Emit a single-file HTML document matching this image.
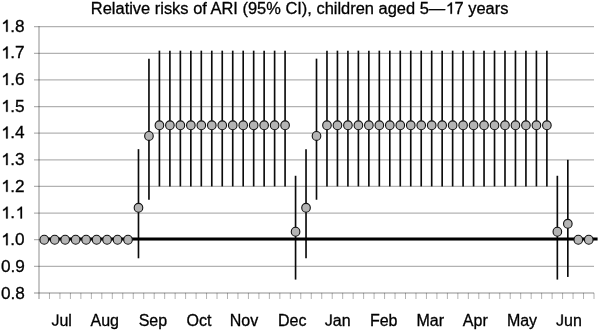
<!DOCTYPE html>
<html><head><meta charset="utf-8"><style>
html,body{margin:0;padding:0;background:#fff;width:600px;height:331px;overflow:hidden}
svg{display:block;will-change:transform;font-family:"Liberation Sans",sans-serif;fill:#000}
text,path.g{stroke:#000;stroke-width:0.3px}
.o1{fill:transparent;stroke:none}
</style></head><body>
<svg width="600" height="331" viewBox="0 0 600 331">
<line x1="34" y1="26.70" x2="594.00" y2="26.70" stroke="rgba(0,0,0,0.3)" stroke-width="1.3"/>
<line x1="34" y1="53.32" x2="594.00" y2="53.32" stroke="rgba(0,0,0,0.3)" stroke-width="1.3"/>
<line x1="34" y1="79.94" x2="594.00" y2="79.94" stroke="rgba(0,0,0,0.3)" stroke-width="1.3"/>
<line x1="34" y1="106.56" x2="594.00" y2="106.56" stroke="rgba(0,0,0,0.3)" stroke-width="1.3"/>
<line x1="34" y1="133.18" x2="594.00" y2="133.18" stroke="rgba(0,0,0,0.3)" stroke-width="1.3"/>
<line x1="34" y1="159.80" x2="594.00" y2="159.80" stroke="rgba(0,0,0,0.3)" stroke-width="1.3"/>
<line x1="34" y1="186.42" x2="594.00" y2="186.42" stroke="rgba(0,0,0,0.3)" stroke-width="1.3"/>
<line x1="34" y1="213.04" x2="594.00" y2="213.04" stroke="rgba(0,0,0,0.3)" stroke-width="1.3"/>
<line x1="34" y1="239.66" x2="594.00" y2="239.66" stroke="rgba(0,0,0,0.3)" stroke-width="1.3"/>
<line x1="34" y1="266.28" x2="594.00" y2="266.28" stroke="rgba(0,0,0,0.3)" stroke-width="1.3"/>
<line x1="34" y1="292.90" x2="594.00" y2="292.90" stroke="rgba(0,0,0,0.22)" stroke-width="2"/>
<line x1="49.47" y1="292.90" x2="49.47" y2="299" stroke="rgba(0,0,0,0.3)" stroke-width="1"/>
<line x1="59.94" y1="292.90" x2="59.94" y2="299" stroke="rgba(0,0,0,0.3)" stroke-width="1"/>
<line x1="70.42" y1="292.90" x2="70.42" y2="299" stroke="rgba(0,0,0,0.3)" stroke-width="1"/>
<line x1="80.89" y1="292.90" x2="80.89" y2="299" stroke="rgba(0,0,0,0.3)" stroke-width="1"/>
<line x1="91.36" y1="292.90" x2="91.36" y2="299" stroke="rgba(0,0,0,0.3)" stroke-width="1"/>
<line x1="101.83" y1="292.90" x2="101.83" y2="299" stroke="rgba(0,0,0,0.3)" stroke-width="1"/>
<line x1="112.30" y1="292.90" x2="112.30" y2="299" stroke="rgba(0,0,0,0.3)" stroke-width="1"/>
<line x1="122.77" y1="292.90" x2="122.77" y2="299" stroke="rgba(0,0,0,0.3)" stroke-width="1"/>
<line x1="133.25" y1="292.90" x2="133.25" y2="299" stroke="rgba(0,0,0,0.3)" stroke-width="1"/>
<line x1="143.72" y1="292.90" x2="143.72" y2="299" stroke="rgba(0,0,0,0.3)" stroke-width="1"/>
<line x1="154.19" y1="292.90" x2="154.19" y2="299" stroke="rgba(0,0,0,0.3)" stroke-width="1"/>
<line x1="164.66" y1="292.90" x2="164.66" y2="299" stroke="rgba(0,0,0,0.3)" stroke-width="1"/>
<line x1="175.13" y1="292.90" x2="175.13" y2="299" stroke="rgba(0,0,0,0.3)" stroke-width="1"/>
<line x1="185.60" y1="292.90" x2="185.60" y2="299" stroke="rgba(0,0,0,0.3)" stroke-width="1"/>
<line x1="196.08" y1="292.90" x2="196.08" y2="299" stroke="rgba(0,0,0,0.3)" stroke-width="1"/>
<line x1="206.55" y1="292.90" x2="206.55" y2="299" stroke="rgba(0,0,0,0.3)" stroke-width="1"/>
<line x1="217.02" y1="292.90" x2="217.02" y2="299" stroke="rgba(0,0,0,0.3)" stroke-width="1"/>
<line x1="227.49" y1="292.90" x2="227.49" y2="299" stroke="rgba(0,0,0,0.3)" stroke-width="1"/>
<line x1="237.96" y1="292.90" x2="237.96" y2="299" stroke="rgba(0,0,0,0.3)" stroke-width="1"/>
<line x1="248.43" y1="292.90" x2="248.43" y2="299" stroke="rgba(0,0,0,0.3)" stroke-width="1"/>
<line x1="258.91" y1="292.90" x2="258.91" y2="299" stroke="rgba(0,0,0,0.3)" stroke-width="1"/>
<line x1="269.38" y1="292.90" x2="269.38" y2="299" stroke="rgba(0,0,0,0.3)" stroke-width="1"/>
<line x1="279.85" y1="292.90" x2="279.85" y2="299" stroke="rgba(0,0,0,0.3)" stroke-width="1"/>
<line x1="290.32" y1="292.90" x2="290.32" y2="299" stroke="rgba(0,0,0,0.3)" stroke-width="1"/>
<line x1="300.79" y1="292.90" x2="300.79" y2="299" stroke="rgba(0,0,0,0.3)" stroke-width="1"/>
<line x1="311.26" y1="292.90" x2="311.26" y2="299" stroke="rgba(0,0,0,0.3)" stroke-width="1"/>
<line x1="321.74" y1="292.90" x2="321.74" y2="299" stroke="rgba(0,0,0,0.3)" stroke-width="1"/>
<line x1="332.21" y1="292.90" x2="332.21" y2="299" stroke="rgba(0,0,0,0.3)" stroke-width="1"/>
<line x1="342.68" y1="292.90" x2="342.68" y2="299" stroke="rgba(0,0,0,0.3)" stroke-width="1"/>
<line x1="353.15" y1="292.90" x2="353.15" y2="299" stroke="rgba(0,0,0,0.3)" stroke-width="1"/>
<line x1="363.62" y1="292.90" x2="363.62" y2="299" stroke="rgba(0,0,0,0.3)" stroke-width="1"/>
<line x1="374.09" y1="292.90" x2="374.09" y2="299" stroke="rgba(0,0,0,0.3)" stroke-width="1"/>
<line x1="384.57" y1="292.90" x2="384.57" y2="299" stroke="rgba(0,0,0,0.3)" stroke-width="1"/>
<line x1="395.04" y1="292.90" x2="395.04" y2="299" stroke="rgba(0,0,0,0.3)" stroke-width="1"/>
<line x1="405.51" y1="292.90" x2="405.51" y2="299" stroke="rgba(0,0,0,0.3)" stroke-width="1"/>
<line x1="415.98" y1="292.90" x2="415.98" y2="299" stroke="rgba(0,0,0,0.3)" stroke-width="1"/>
<line x1="426.45" y1="292.90" x2="426.45" y2="299" stroke="rgba(0,0,0,0.3)" stroke-width="1"/>
<line x1="436.92" y1="292.90" x2="436.92" y2="299" stroke="rgba(0,0,0,0.3)" stroke-width="1"/>
<line x1="447.40" y1="292.90" x2="447.40" y2="299" stroke="rgba(0,0,0,0.3)" stroke-width="1"/>
<line x1="457.87" y1="292.90" x2="457.87" y2="299" stroke="rgba(0,0,0,0.3)" stroke-width="1"/>
<line x1="468.34" y1="292.90" x2="468.34" y2="299" stroke="rgba(0,0,0,0.3)" stroke-width="1"/>
<line x1="478.81" y1="292.90" x2="478.81" y2="299" stroke="rgba(0,0,0,0.3)" stroke-width="1"/>
<line x1="489.28" y1="292.90" x2="489.28" y2="299" stroke="rgba(0,0,0,0.3)" stroke-width="1"/>
<line x1="499.75" y1="292.90" x2="499.75" y2="299" stroke="rgba(0,0,0,0.3)" stroke-width="1"/>
<line x1="510.23" y1="292.90" x2="510.23" y2="299" stroke="rgba(0,0,0,0.3)" stroke-width="1"/>
<line x1="520.70" y1="292.90" x2="520.70" y2="299" stroke="rgba(0,0,0,0.3)" stroke-width="1"/>
<line x1="531.17" y1="292.90" x2="531.17" y2="299" stroke="rgba(0,0,0,0.3)" stroke-width="1"/>
<line x1="541.64" y1="292.90" x2="541.64" y2="299" stroke="rgba(0,0,0,0.3)" stroke-width="1"/>
<line x1="552.11" y1="292.90" x2="552.11" y2="299" stroke="rgba(0,0,0,0.3)" stroke-width="1"/>
<line x1="562.58" y1="292.90" x2="562.58" y2="299" stroke="rgba(0,0,0,0.3)" stroke-width="1"/>
<line x1="573.06" y1="292.90" x2="573.06" y2="299" stroke="rgba(0,0,0,0.3)" stroke-width="1"/>
<line x1="583.53" y1="292.90" x2="583.53" y2="299" stroke="rgba(0,0,0,0.3)" stroke-width="1"/>
<line x1="594.00" y1="292.90" x2="594.00" y2="299" stroke="rgba(0,0,0,0.3)" stroke-width="1"/>
<line x1="39.0" y1="26.20" x2="39.0" y2="299" stroke="rgba(0,0,0,0.22)" stroke-width="2"/>
<line x1="138.48" y1="149.15" x2="138.48" y2="258.29" stroke="#0a0a0a" stroke-width="1.65"/>
<line x1="148.95" y1="58.64" x2="148.95" y2="199.73" stroke="#0a0a0a" stroke-width="1.65"/>
<line x1="159.42" y1="50.66" x2="159.42" y2="186.42" stroke="#0a0a0a" stroke-width="1.65"/>
<line x1="169.90" y1="50.66" x2="169.90" y2="186.42" stroke="#0a0a0a" stroke-width="1.65"/>
<line x1="180.37" y1="50.66" x2="180.37" y2="186.42" stroke="#0a0a0a" stroke-width="1.65"/>
<line x1="190.84" y1="50.66" x2="190.84" y2="186.42" stroke="#0a0a0a" stroke-width="1.65"/>
<line x1="201.31" y1="50.66" x2="201.31" y2="186.42" stroke="#0a0a0a" stroke-width="1.65"/>
<line x1="211.78" y1="50.66" x2="211.78" y2="186.42" stroke="#0a0a0a" stroke-width="1.65"/>
<line x1="222.25" y1="50.66" x2="222.25" y2="186.42" stroke="#0a0a0a" stroke-width="1.65"/>
<line x1="232.73" y1="50.66" x2="232.73" y2="186.42" stroke="#0a0a0a" stroke-width="1.65"/>
<line x1="243.20" y1="50.66" x2="243.20" y2="186.42" stroke="#0a0a0a" stroke-width="1.65"/>
<line x1="253.67" y1="50.66" x2="253.67" y2="186.42" stroke="#0a0a0a" stroke-width="1.65"/>
<line x1="264.14" y1="50.66" x2="264.14" y2="186.42" stroke="#0a0a0a" stroke-width="1.65"/>
<line x1="274.61" y1="50.66" x2="274.61" y2="186.42" stroke="#0a0a0a" stroke-width="1.65"/>
<line x1="285.08" y1="50.66" x2="285.08" y2="186.42" stroke="#0a0a0a" stroke-width="1.65"/>
<line x1="295.56" y1="175.77" x2="295.56" y2="279.59" stroke="#0a0a0a" stroke-width="1.65"/>
<line x1="306.03" y1="149.15" x2="306.03" y2="258.29" stroke="#0a0a0a" stroke-width="1.65"/>
<line x1="316.50" y1="58.64" x2="316.50" y2="199.73" stroke="#0a0a0a" stroke-width="1.65"/>
<line x1="326.97" y1="50.66" x2="326.97" y2="186.42" stroke="#0a0a0a" stroke-width="1.65"/>
<line x1="337.44" y1="50.66" x2="337.44" y2="186.42" stroke="#0a0a0a" stroke-width="1.65"/>
<line x1="347.92" y1="50.66" x2="347.92" y2="186.42" stroke="#0a0a0a" stroke-width="1.65"/>
<line x1="358.39" y1="50.66" x2="358.39" y2="186.42" stroke="#0a0a0a" stroke-width="1.65"/>
<line x1="368.86" y1="50.66" x2="368.86" y2="186.42" stroke="#0a0a0a" stroke-width="1.65"/>
<line x1="379.33" y1="50.66" x2="379.33" y2="186.42" stroke="#0a0a0a" stroke-width="1.65"/>
<line x1="389.80" y1="50.66" x2="389.80" y2="186.42" stroke="#0a0a0a" stroke-width="1.65"/>
<line x1="400.27" y1="50.66" x2="400.27" y2="186.42" stroke="#0a0a0a" stroke-width="1.65"/>
<line x1="410.75" y1="50.66" x2="410.75" y2="186.42" stroke="#0a0a0a" stroke-width="1.65"/>
<line x1="421.22" y1="50.66" x2="421.22" y2="186.42" stroke="#0a0a0a" stroke-width="1.65"/>
<line x1="431.69" y1="50.66" x2="431.69" y2="186.42" stroke="#0a0a0a" stroke-width="1.65"/>
<line x1="442.16" y1="50.66" x2="442.16" y2="186.42" stroke="#0a0a0a" stroke-width="1.65"/>
<line x1="452.63" y1="50.66" x2="452.63" y2="186.42" stroke="#0a0a0a" stroke-width="1.65"/>
<line x1="463.10" y1="50.66" x2="463.10" y2="186.42" stroke="#0a0a0a" stroke-width="1.65"/>
<line x1="473.58" y1="50.66" x2="473.58" y2="186.42" stroke="#0a0a0a" stroke-width="1.65"/>
<line x1="484.05" y1="50.66" x2="484.05" y2="186.42" stroke="#0a0a0a" stroke-width="1.65"/>
<line x1="494.52" y1="50.66" x2="494.52" y2="186.42" stroke="#0a0a0a" stroke-width="1.65"/>
<line x1="504.99" y1="50.66" x2="504.99" y2="186.42" stroke="#0a0a0a" stroke-width="1.65"/>
<line x1="515.46" y1="50.66" x2="515.46" y2="186.42" stroke="#0a0a0a" stroke-width="1.65"/>
<line x1="525.93" y1="50.66" x2="525.93" y2="186.42" stroke="#0a0a0a" stroke-width="1.65"/>
<line x1="536.41" y1="50.66" x2="536.41" y2="186.42" stroke="#0a0a0a" stroke-width="1.65"/>
<line x1="546.88" y1="50.66" x2="546.88" y2="186.42" stroke="#0a0a0a" stroke-width="1.65"/>
<line x1="557.35" y1="175.77" x2="557.35" y2="279.59" stroke="#0a0a0a" stroke-width="1.65"/>
<line x1="567.82" y1="159.80" x2="567.82" y2="276.93" stroke="#0a0a0a" stroke-width="1.65"/>
<line x1="44.24" y1="238.9" x2="597.6" y2="238.9" stroke="#000" stroke-width="3"/>
<ellipse cx="44.24" cy="239.76" rx="4.3" ry="4.45" fill="#b4b4b4" stroke="#111" stroke-width="1.1"/>
<ellipse cx="54.71" cy="239.76" rx="4.3" ry="4.45" fill="#b4b4b4" stroke="#111" stroke-width="1.1"/>
<ellipse cx="65.18" cy="239.76" rx="4.3" ry="4.45" fill="#b4b4b4" stroke="#111" stroke-width="1.1"/>
<ellipse cx="75.65" cy="239.76" rx="4.3" ry="4.45" fill="#b4b4b4" stroke="#111" stroke-width="1.1"/>
<ellipse cx="86.12" cy="239.76" rx="4.3" ry="4.45" fill="#b4b4b4" stroke="#111" stroke-width="1.1"/>
<ellipse cx="96.59" cy="239.76" rx="4.3" ry="4.45" fill="#b4b4b4" stroke="#111" stroke-width="1.1"/>
<ellipse cx="107.07" cy="239.76" rx="4.3" ry="4.45" fill="#b4b4b4" stroke="#111" stroke-width="1.1"/>
<ellipse cx="117.54" cy="239.76" rx="4.3" ry="4.45" fill="#b4b4b4" stroke="#111" stroke-width="1.1"/>
<ellipse cx="128.01" cy="239.76" rx="4.3" ry="4.45" fill="#b4b4b4" stroke="#111" stroke-width="1.1"/>
<ellipse cx="138.48" cy="207.82" rx="4.3" ry="4.45" fill="#b4b4b4" stroke="#111" stroke-width="1.1"/>
<ellipse cx="148.95" cy="135.94" rx="4.3" ry="4.45" fill="#b4b4b4" stroke="#111" stroke-width="1.1"/>
<ellipse cx="159.42" cy="125.29" rx="4.3" ry="4.45" fill="#b4b4b4" stroke="#111" stroke-width="1.1"/>
<ellipse cx="169.90" cy="125.29" rx="4.3" ry="4.45" fill="#b4b4b4" stroke="#111" stroke-width="1.1"/>
<ellipse cx="180.37" cy="125.29" rx="4.3" ry="4.45" fill="#b4b4b4" stroke="#111" stroke-width="1.1"/>
<ellipse cx="190.84" cy="125.29" rx="4.3" ry="4.45" fill="#b4b4b4" stroke="#111" stroke-width="1.1"/>
<ellipse cx="201.31" cy="125.29" rx="4.3" ry="4.45" fill="#b4b4b4" stroke="#111" stroke-width="1.1"/>
<ellipse cx="211.78" cy="125.29" rx="4.3" ry="4.45" fill="#b4b4b4" stroke="#111" stroke-width="1.1"/>
<ellipse cx="222.25" cy="125.29" rx="4.3" ry="4.45" fill="#b4b4b4" stroke="#111" stroke-width="1.1"/>
<ellipse cx="232.73" cy="125.29" rx="4.3" ry="4.45" fill="#b4b4b4" stroke="#111" stroke-width="1.1"/>
<ellipse cx="243.20" cy="125.29" rx="4.3" ry="4.45" fill="#b4b4b4" stroke="#111" stroke-width="1.1"/>
<ellipse cx="253.67" cy="125.29" rx="4.3" ry="4.45" fill="#b4b4b4" stroke="#111" stroke-width="1.1"/>
<ellipse cx="264.14" cy="125.29" rx="4.3" ry="4.45" fill="#b4b4b4" stroke="#111" stroke-width="1.1"/>
<ellipse cx="274.61" cy="125.29" rx="4.3" ry="4.45" fill="#b4b4b4" stroke="#111" stroke-width="1.1"/>
<ellipse cx="285.08" cy="125.29" rx="4.3" ry="4.45" fill="#b4b4b4" stroke="#111" stroke-width="1.1"/>
<ellipse cx="295.56" cy="231.77" rx="4.3" ry="4.45" fill="#b4b4b4" stroke="#111" stroke-width="1.1"/>
<ellipse cx="306.03" cy="207.82" rx="4.3" ry="4.45" fill="#b4b4b4" stroke="#111" stroke-width="1.1"/>
<ellipse cx="316.50" cy="135.94" rx="4.3" ry="4.45" fill="#b4b4b4" stroke="#111" stroke-width="1.1"/>
<ellipse cx="326.97" cy="125.29" rx="4.3" ry="4.45" fill="#b4b4b4" stroke="#111" stroke-width="1.1"/>
<ellipse cx="337.44" cy="125.29" rx="4.3" ry="4.45" fill="#b4b4b4" stroke="#111" stroke-width="1.1"/>
<ellipse cx="347.92" cy="125.29" rx="4.3" ry="4.45" fill="#b4b4b4" stroke="#111" stroke-width="1.1"/>
<ellipse cx="358.39" cy="125.29" rx="4.3" ry="4.45" fill="#b4b4b4" stroke="#111" stroke-width="1.1"/>
<ellipse cx="368.86" cy="125.29" rx="4.3" ry="4.45" fill="#b4b4b4" stroke="#111" stroke-width="1.1"/>
<ellipse cx="379.33" cy="125.29" rx="4.3" ry="4.45" fill="#b4b4b4" stroke="#111" stroke-width="1.1"/>
<ellipse cx="389.80" cy="125.29" rx="4.3" ry="4.45" fill="#b4b4b4" stroke="#111" stroke-width="1.1"/>
<ellipse cx="400.27" cy="125.29" rx="4.3" ry="4.45" fill="#b4b4b4" stroke="#111" stroke-width="1.1"/>
<ellipse cx="410.75" cy="125.29" rx="4.3" ry="4.45" fill="#b4b4b4" stroke="#111" stroke-width="1.1"/>
<ellipse cx="421.22" cy="125.29" rx="4.3" ry="4.45" fill="#b4b4b4" stroke="#111" stroke-width="1.1"/>
<ellipse cx="431.69" cy="125.29" rx="4.3" ry="4.45" fill="#b4b4b4" stroke="#111" stroke-width="1.1"/>
<ellipse cx="442.16" cy="125.29" rx="4.3" ry="4.45" fill="#b4b4b4" stroke="#111" stroke-width="1.1"/>
<ellipse cx="452.63" cy="125.29" rx="4.3" ry="4.45" fill="#b4b4b4" stroke="#111" stroke-width="1.1"/>
<ellipse cx="463.10" cy="125.29" rx="4.3" ry="4.45" fill="#b4b4b4" stroke="#111" stroke-width="1.1"/>
<ellipse cx="473.58" cy="125.29" rx="4.3" ry="4.45" fill="#b4b4b4" stroke="#111" stroke-width="1.1"/>
<ellipse cx="484.05" cy="125.29" rx="4.3" ry="4.45" fill="#b4b4b4" stroke="#111" stroke-width="1.1"/>
<ellipse cx="494.52" cy="125.29" rx="4.3" ry="4.45" fill="#b4b4b4" stroke="#111" stroke-width="1.1"/>
<ellipse cx="504.99" cy="125.29" rx="4.3" ry="4.45" fill="#b4b4b4" stroke="#111" stroke-width="1.1"/>
<ellipse cx="515.46" cy="125.29" rx="4.3" ry="4.45" fill="#b4b4b4" stroke="#111" stroke-width="1.1"/>
<ellipse cx="525.93" cy="125.29" rx="4.3" ry="4.45" fill="#b4b4b4" stroke="#111" stroke-width="1.1"/>
<ellipse cx="536.41" cy="125.29" rx="4.3" ry="4.45" fill="#b4b4b4" stroke="#111" stroke-width="1.1"/>
<ellipse cx="546.88" cy="125.29" rx="4.3" ry="4.45" fill="#b4b4b4" stroke="#111" stroke-width="1.1"/>
<ellipse cx="557.35" cy="231.77" rx="4.3" ry="4.45" fill="#b4b4b4" stroke="#111" stroke-width="1.1"/>
<ellipse cx="567.82" cy="223.79" rx="4.3" ry="4.45" fill="#b4b4b4" stroke="#111" stroke-width="1.1"/>
<ellipse cx="578.29" cy="239.76" rx="4.3" ry="4.45" fill="#b4b4b4" stroke="#111" stroke-width="1.1"/>
<ellipse cx="588.76" cy="239.76" rx="4.3" ry="4.45" fill="#b4b4b4" stroke="#111" stroke-width="1.1"/>
<text id="t0" x="24.60" y="0" text-anchor="end" font-size="17.2" transform="translate(0 31.70) scale(1 1.0)"><tspan class="o1">1</tspan>.8</text>
<text id="t1" x="24.60" y="0" text-anchor="end" font-size="17.2" transform="translate(0 58.38) scale(1 1.0)"><tspan class="o1">1</tspan>.7</text>
<text id="t2" x="24.60" y="0" text-anchor="end" font-size="17.2" transform="translate(0 85.06) scale(1 1.0)"><tspan class="o1">1</tspan>.6</text>
<text id="t3" x="24.60" y="0" text-anchor="end" font-size="17.2" transform="translate(0 111.74) scale(1 1.0)"><tspan class="o1">1</tspan>.5</text>
<text id="t4" x="24.60" y="0" text-anchor="end" font-size="17.2" transform="translate(0 138.42) scale(1 1.0)"><tspan class="o1">1</tspan>.4</text>
<text id="t5" x="24.60" y="0" text-anchor="end" font-size="17.2" transform="translate(0 165.10) scale(1 1.0)"><tspan class="o1">1</tspan>.3</text>
<text id="t6" x="24.60" y="0" text-anchor="end" font-size="17.2" transform="translate(0 191.78) scale(1 1.0)"><tspan class="o1">1</tspan>.2</text>
<text id="t7" x="24.60" y="0" text-anchor="end" font-size="17.2" transform="translate(0 218.46) scale(1 1.0)"><tspan class="o1">1</tspan>.<tspan class="o1">1</tspan></text>
<text id="t8" x="24.60" y="0" text-anchor="end" font-size="17.2" transform="translate(0 245.14) scale(1 1.0)"><tspan class="o1">1</tspan>.0</text>
<text id="t9" x="24.90" y="0" text-anchor="end" font-size="17.2" transform="translate(0 271.82) scale(1 1.0)">0.9</text>
<text id="t10" x="24.90" y="0" text-anchor="end" font-size="17.2" transform="translate(0 298.50) scale(1 1.0)">0.8</text>
<text id="t11" x="61.70" y="0" text-anchor="middle" font-size="16" transform="translate(0 325.50) scale(1 1.0)"><tspan class="o1">J</tspan>ul</text>
<text id="t12" x="104.70" y="0" text-anchor="middle" font-size="16" transform="translate(0 325.50) scale(1 1.0)">Aug</text>
<text id="t13" x="152.90" y="0" text-anchor="middle" font-size="16" transform="translate(0 325.50) scale(1 1.0)">Sep</text>
<text id="t14" x="198.90" y="0" text-anchor="middle" font-size="16" transform="translate(0 325.50) scale(1 1.0)">Oct</text>
<text id="t15" x="243.90" y="0" text-anchor="middle" font-size="16" transform="translate(0 325.50) scale(1 1.0)">Nov</text>
<text id="t16" x="292.20" y="0" text-anchor="middle" font-size="16" transform="translate(0 325.50) scale(1 1.0)">Dec</text>
<text id="t17" x="337.70" y="0" text-anchor="middle" font-size="16" transform="translate(0 325.50) scale(1 1.0)"><tspan class="o1">J</tspan>an</text>
<text id="t18" x="383.70" y="0" text-anchor="middle" font-size="16" transform="translate(0 325.50) scale(1 1.0)">Feb</text>
<text id="t19" x="430.30" y="0" text-anchor="middle" font-size="16" transform="translate(0 325.50) scale(1 1.0)">Mar</text>
<text id="t20" x="475.30" y="0" text-anchor="middle" font-size="16" transform="translate(0 325.50) scale(1 1.0)">Apr</text>
<text id="t21" x="522.00" y="0" text-anchor="middle" font-size="16" transform="translate(0 325.50) scale(1 1.0)">May</text>
<text id="t22" x="568.90" y="0" text-anchor="middle" font-size="16" transform="translate(0 325.50) scale(1 1.0)"><tspan class="o1">J</tspan>un</text>
<text id="t23" x="299.60" y="0" text-anchor="middle" font-size="16.45" transform="translate(0 13.80) scale(1 1.0)">Relative risks of ARI (95% CI), children aged 5—<tspan class="o1">1</tspan>7 years</text>
<path class="g" d="M830 0L650 0L650 1100C600 1050 520 1000 430 960C370 933 320 915 290 905L290 1080C400 1120 500 1190 570 1260C620 1310 660 1370 690 1409L830 1409Z" vector-effect="non-scaling-stroke" transform="translate(0.69 31.70) scale(0.008398 -0.008398)"/>
<path class="g" d="M830 0L650 0L650 1100C600 1050 520 1000 430 960C370 933 320 915 290 905L290 1080C400 1120 500 1190 570 1260C620 1310 660 1370 690 1409L830 1409Z" vector-effect="non-scaling-stroke" transform="translate(0.69 58.38) scale(0.008398 -0.008398)"/>
<path class="g" d="M830 0L650 0L650 1100C600 1050 520 1000 430 960C370 933 320 915 290 905L290 1080C400 1120 500 1190 570 1260C620 1310 660 1370 690 1409L830 1409Z" vector-effect="non-scaling-stroke" transform="translate(0.69 85.06) scale(0.008398 -0.008398)"/>
<path class="g" d="M830 0L650 0L650 1100C600 1050 520 1000 430 960C370 933 320 915 290 905L290 1080C400 1120 500 1190 570 1260C620 1310 660 1370 690 1409L830 1409Z" vector-effect="non-scaling-stroke" transform="translate(0.69 111.74) scale(0.008398 -0.008398)"/>
<path class="g" d="M830 0L650 0L650 1100C600 1050 520 1000 430 960C370 933 320 915 290 905L290 1080C400 1120 500 1190 570 1260C620 1310 660 1370 690 1409L830 1409Z" vector-effect="non-scaling-stroke" transform="translate(0.69 138.42) scale(0.008398 -0.008398)"/>
<path class="g" d="M830 0L650 0L650 1100C600 1050 520 1000 430 960C370 933 320 915 290 905L290 1080C400 1120 500 1190 570 1260C620 1310 660 1370 690 1409L830 1409Z" vector-effect="non-scaling-stroke" transform="translate(0.69 165.10) scale(0.008398 -0.008398)"/>
<path class="g" d="M830 0L650 0L650 1100C600 1050 520 1000 430 960C370 933 320 915 290 905L290 1080C400 1120 500 1190 570 1260C620 1310 660 1370 690 1409L830 1409Z" vector-effect="non-scaling-stroke" transform="translate(0.69 191.78) scale(0.008398 -0.008398)"/>
<path class="g" d="M830 0L650 0L650 1100C600 1050 520 1000 430 960C370 933 320 915 290 905L290 1080C400 1120 500 1190 570 1260C620 1310 660 1370 690 1409L830 1409Z" vector-effect="non-scaling-stroke" transform="translate(0.69 218.46) scale(0.008398 -0.008398)"/>
<path class="g" d="M830 0L650 0L650 1100C600 1050 520 1000 430 960C370 933 320 915 290 905L290 1080C400 1120 500 1190 570 1260C620 1310 660 1370 690 1409L830 1409Z" vector-effect="non-scaling-stroke" transform="translate(15.04 218.46) scale(0.008398 -0.008398)"/>
<path class="g" d="M830 0L650 0L650 1100C600 1050 520 1000 430 960C370 933 320 915 290 905L290 1080C400 1120 500 1190 570 1260C620 1310 660 1370 690 1409L830 1409Z" vector-effect="non-scaling-stroke" transform="translate(0.69 245.14) scale(0.008398 -0.008398)"/>
<path class="g" d="M457 -20Q99 -20 32 350L219 381Q237 265 300 200Q363 135 458 135Q562 135 622 206.5Q682 278 682 416V1409H872V420Q872 215 761 97.5Q650 -20 457 -20Z" vector-effect="non-scaling-stroke" transform="translate(51.47 325.50) scale(0.007812 -0.007812)"/>
<path class="g" d="M457 -20Q99 -20 32 350L219 381Q237 265 300 200Q363 135 458 135Q562 135 622 206.5Q682 278 682 416V1409H872V420Q872 215 761 97.5Q650 -20 457 -20Z" vector-effect="non-scaling-stroke" transform="translate(324.80 325.50) scale(0.007812 -0.007812)"/>
<path class="g" d="M457 -20Q99 -20 32 350L219 381Q237 265 300 200Q363 135 458 135Q562 135 622 206.5Q682 278 682 416V1409H872V420Q872 215 761 97.5Q650 -20 457 -20Z" vector-effect="non-scaling-stroke" transform="translate(556.00 325.50) scale(0.007812 -0.007812)"/>
<path class="g" d="M830 0L650 0L650 1100C600 1050 520 1000 430 960C370 933 320 915 290 905L290 1080C400 1120 500 1190 570 1260C620 1310 660 1370 690 1409L830 1409Z" vector-effect="non-scaling-stroke" transform="translate(445.30 13.80) scale(0.008032 -0.008032)"/>
</svg>
</body></html>
